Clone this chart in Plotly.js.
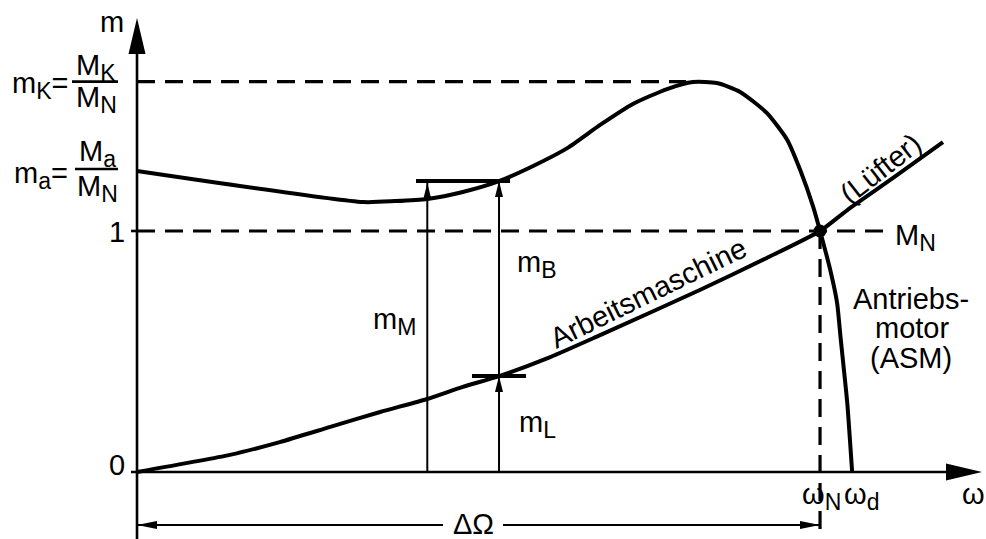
<!DOCTYPE html>
<html><head><meta charset="utf-8">
<script src="https://cdn.plot.ly/plotly-3.0.1.min.js"></script>
<style>html,body{margin:0;padding:0;background:#fff}#chart{width:986px;height:539px}</style>
</head><body><div id="chart"></div>
<script>
// ---- data: speed ω in units of ω_N, torque m = M/M_N ----
const motorW = [0, 0.331, 0.378, 0.425, 0.477, 0.530, 0.580, 0.630, 0.678, 0.726, 0.776, 0.814, 0.849, 0.883, 0.922, 0.952, 0.971, 0.990, 1.000, 1.015, 1.025, 1.030, 1.035, 1.040, 1.047];
const motorM = [1.249, 1.120, 1.124, 1.133, 1.162, 1.207, 1.270, 1.344, 1.440, 1.527, 1.589, 1.618, 1.614, 1.577, 1.490, 1.378, 1.253, 1.100, 1.000, 0.838, 0.701, 0.560, 0.423, 0.282, 0];
const loadW = [0, 0.136, 0.209, 0.283, 0.356, 0.425, 0.477, 0.530, 0.605, 0.678, 0.824, 0.922, 1.000, 1.040, 1.107, 1.180];
const loadM = [0, 0.071, 0.124, 0.187, 0.249, 0.303, 0.353, 0.398, 0.477, 0.568, 0.755, 0.888, 1.000, 1.087, 1.220, 1.369];
const tickValues = [0, 1];
const tickLabels = ['0', '1'];
const mK = 1.62;          // Kippmoment
const mA = 1.249;         // Anlaufmoment
const omegaN = 1.0, omegaD = 1.047;
const wM = 0.425;         // speed of the m_M arrow
const wB = 0.530;         // speed of the m_B / m_L arrows
const mBTop = 1.207, mLTop = 0.398;

// ---- geometry ----
const W = 986, H = 539;
const xr = [-0.2006, 1.2430], yr = [-0.278, 1.9585];
const sx = W / (xr[1] - xr[0]), sy = H / (yr[1] - yr[0]);
const X = p => xr[0] + p / sx;      // pixel -> data
const Y = p => yr[1] - p / sy;
const FONT = {family: 'Liberation Sans, Arial, sans-serif', size: 29, color: '#000'};
const sub = s => `<sub><span style="font-size:23px">${s}</span></sub>`;

function head(tx, ty, dx, dy, L, Wd) {
  const bx = -dx * L, by = -dy * L, qx = -dy * Wd / 2, qy = dx * Wd / 2;
  const p2 = [tx + (bx + qx) / sx, ty + (by + qy) / sy];
  const p3 = [tx + (bx - qx) / sx, ty + (by - qy) / sy];
  return {type: 'path', xref: 'x', yref: 'y', path: `M${tx},${ty}L${p2}L${p3}Z`, fillcolor: '#000', line: {width: 0}};
}
function seg(x0, y0, x1, y1, w, dash) {
  return {type: 'line', xref: 'x', yref: 'y', x0, y0, x1, y1, line: {color: '#000', width: w, dash: dash || 'solid'}};
}

const peakIdx = motorM.indexOf(Math.max(...motorM));
const yAxTop = Y(18), xAxEnd = X(982);
const dOmY = Y(525);
const DASH = '18px,10px';

const shapes = [
  // axes
  seg(0, yr[0], 0, yAxTop - 30 / sy, 2.6),
  seg(X(131), 0, xAxEnd - 30 / sx, 0, 2.6),
  head(0, yAxTop, 0, 1, 36, 17),
  head(xAxEnd, 0, 1, 0, 36, 17),
  seg(X(131), tickValues[1], 0, tickValues[1], 2.6),
  // dashed guides
  seg(0, mK, motorW[peakIdx] - 0.01, mK, 3.2, DASH),
  seg(0, 1, X(884), 1, 3.2, DASH),
  seg(omegaN, 1, omegaN, yr[0], 3.2, DASH),
  // fraction bars
  seg(X(72), mK, X(118), mK, 2.6),
  seg(X(75), Y(169), X(118), Y(169), 2.6),
  // m_M arrow
  seg(wM, 0, wM, mBTop, 2),
  head(wM, mBTop - 2 / sy, 0, 1, 16, 8),
  // m_L and m_B arrows
  seg(wB, 0, wB, mBTop, 2),
  head(wB, mLTop, 0, 1, 16, 8),
  head(wB, mBTop, 0, 1, 16, 8),
  // horizontal ticks
  seg(X(416), mBTop, X(510), mBTop, 4),
  seg(X(472), mLTop, X(526), mLTop, 4),
  // ΔΩ arrow (gap for label)
  seg(0, dOmY, X(443), dOmY, 2),
  seg(X(503), dOmY, omegaN, dOmY, 2),
  head(0, dOmY, -1, 0, 20, 8),
  head(omegaN, dOmY, 1, 0, 20, 8)
];

const A = (t, px, py, extra) => Object.assign({text: t, x: X(px), y: Y(py), xref: 'x', yref: 'y', showarrow: false, xanchor: 'center', yanchor: 'middle', font: FONT}, extra || {});
const annotations = [
  A('m', 112, 22),
  A(tickLabels[0], 117, 465),
  A(tickLabels[1], 117, 232),
  A('m' + sub('K') + '=', 70, 85, {xanchor: 'right'}),
  A('M' + sub('K'), 96, 67),
  A('M' + sub('N'), 96, 99),
  A('m' + sub('a') + '=', 70, 175, {xanchor: 'right'}),
  A('M' + sub('a'), 97, 153),
  A('M' + sub('N'), 97, 188),
  A('m' + sub('B'), 537, 264),
  A('m' + sub('M'), 394, 321),
  A('m' + sub('L'), 537, 424),
  A('Arbeitsmaschine', 648, 293, {textangle: -26}),
  A('(Lüfter)', 880, 169, {textangle: -38}),
  A('M' + sub('N'), 915, 237),
  A('Antriebs-', 911, 299),
  A('motor', 912, 328),
  A('(ASM)', 911, 358),
  A('ω' + sub('N'), 821, 496),
  A('ω' + sub('d'), 861, 496),
  A('ω', 973, 494),
  A('ΔΩ', 473, 524)
];

const traces = [
  {x: motorW, y: motorM, mode: 'lines', line: {color: '#000', width: 4, shape: 'spline', smoothing: 0.6}, hoverinfo: 'skip'},
  {x: loadW, y: loadM, mode: 'lines', line: {color: '#000', width: 4, shape: 'spline', smoothing: 0.6}, hoverinfo: 'skip'},
  {x: [omegaN], y: [1], mode: 'markers', marker: {color: '#000', size: 13}, hoverinfo: 'skip'}
];

const layout = {
  width: W, height: H, margin: {l: 0, r: 0, t: 0, b: 0},
  paper_bgcolor: '#fff', plot_bgcolor: '#fff', showlegend: false,
  xaxis: {range: xr, visible: false, fixedrange: true},
  yaxis: {range: yr, visible: false, fixedrange: true},
  shapes, annotations
};
Plotly.newPlot('chart', traces, layout, {displayModeBar: false, staticPlot: true});
</script></body></html>
